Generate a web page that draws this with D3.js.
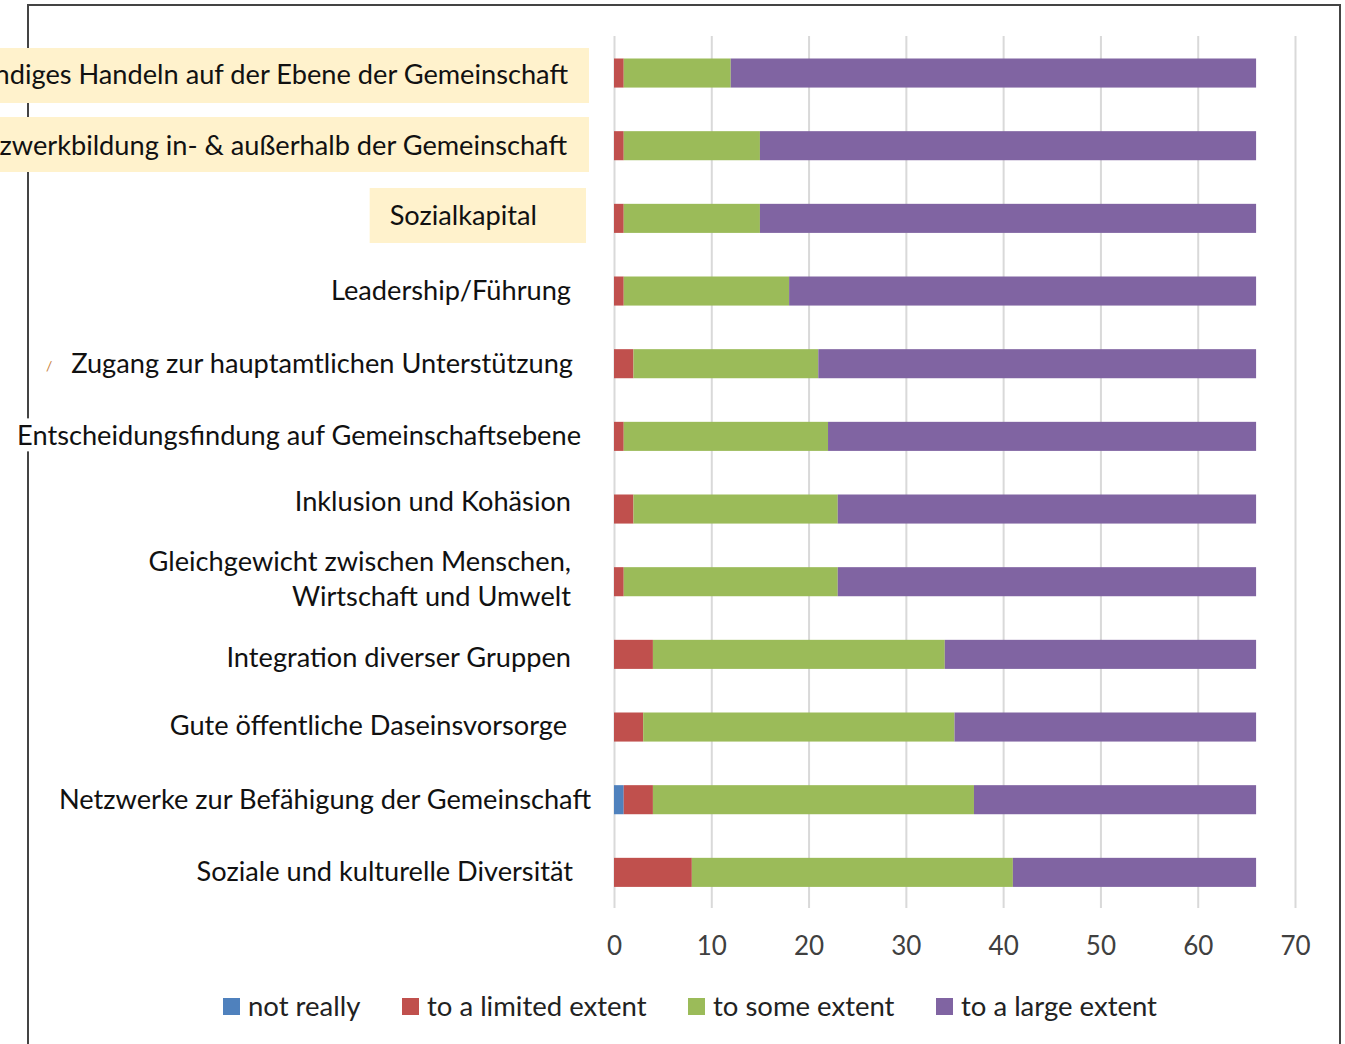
<!DOCTYPE html>
<html lang="en">
<head>
    <meta charset="UTF-8">
    <script src="https://cdnjs.cloudflare.com/ajax/libs/d3/7.8.5/d3.min.js"></script>
    <style>
        body { margin: 0; background: #fff; }
        svg { display: block; font-family: Lato, "Open Sans", sans-serif; }
    </style>
</head>
<body>
    <svg id="chart" width="1345" height="1044"></svg>
    <script>
        // categories, top to bottom
        let categories = [
            "Eigenständiges Handeln auf der Ebene der Gemeinschaft",
            "Netzwerkbildung in- & außerhalb der Gemeinschaft",
            "Sozialkapital",
            "Leadership/Führung",
            "Zugang zur hauptamtlichen Unterstützung",
            "Entscheidungsfindung auf Gemeinschaftsebene",
            "Inklusion und Kohäsion",
            "Gleichgewicht zwischen Menschen,|Wirtschaft und Umwelt",
            "Integration diverser Gruppen",
            "Gute öffentliche Daseinsvorsorge",
            "Netzwerke zur Befähigung der Gemeinschaft",
            "Soziale und kulturelle Diversität"
        ];
        let highlighted = [0, 1, 2];

        let seriesNames = ["not really", "to a limited extent", "to some extent", "to a large extent"];
        let notReally     = [0, 0, 0, 0, 0, 0, 0, 0, 0, 0, 1, 0];
        let limitedExtent = [1, 1, 1, 1, 2, 1, 2, 1, 4, 3, 3, 8];
        let someExtent    = [11, 14, 14, 17, 19, 21, 21, 22, 30, 32, 33, 33];
        let largeExtent   = [54, 51, 51, 48, 45, 44, 43, 43, 32, 31, 29, 25];
        let xTicks = [0, 10, 20, 30, 40, 50, 60, 70];

        let colors = ["#4f81bd", "#c0504d", "#9bbb59", "#8064a2"];

        let rows = categories.map((c, i) => ({
            cat: c,
            "not really": notReally[i],
            "to a limited extent": limitedExtent[i],
            "to some extent": someExtent[i],
            "to a large extent": largeExtent[i]
        }));
        let stacked = d3.stack().keys(seriesNames)(rows);

        let svg = d3.select("#chart");

        let x = d3.scaleLinear().domain([0, 70]).range([614, 1295]);
        let y = d3.scaleBand().domain(categories).range([36.7, 908.7])
            .paddingInner(0.6).paddingOuter(0.3);

        // frame
        svg.append("rect")
            .attr("x", 28).attr("y", 5)
            .attr("width", 1312).attr("height", 1100)
            .attr("fill", "none").attr("stroke", "#444").attr("stroke-width", 2);

        // gridlines + axis
        let xAxis = d3.axisBottom(x).tickValues(xTicks).tickSize(872).tickPadding(29);
        let gx = svg.append("g").attr("transform", "translate(0,36)").call(xAxis);
        gx.select(".domain").remove();
        gx.selectAll(".tick line").attr("stroke", "#d9d9d9").attr("stroke-width", 2);
        gx.selectAll(".tick text")
            .attr("font-size", 26).attr("fill", "#404040")
            .attr("font-family", "Lato, sans-serif");

        // bars
        svg.append("g").selectAll("g")
            .data(stacked)
            .join("g")
            .attr("fill", (d, i) => colors[i])
            .selectAll("rect")
            .data(d => d)
            .join("rect")
            .attr("x", d => x(d[0]))
            .attr("width", d => x(d[1]) - x(d[0]))
            .attr("y", d => y(d.data.cat))
            .attr("height", y.bandwidth());

        // labels
        let labelSize = 27.2;
        let labelRight = 571;
        let labelShift = {0: -3, 1: -4, 2: -34, 4: 2, 5: 10, 9: -4, 10: 20, 11: 2};
        let labelLift = {0: 2, 1: 0, 2: -2, 6: -7, 8: 4, 9: -1};
        let boxTop = {0: 48, 1: 117, 2: 188};
        let lg = svg.append("g");
        categories.forEach((c, i) => {
            let cy = y(c) + y.bandwidth() / 2 + (labelLift[i] || 0);
            let lines = c.split("|");
            let g = lg.append("g");
            let bg = g.append("rect");
            let t = g.append("text")
                .attr("text-anchor", "end")
                .attr("font-size", labelSize)
                .attr("fill", "#111");
            lines.forEach((ln, j) => {
                t.append("tspan")
                    .attr("x", labelRight + (labelShift[i] || 0))
                    .attr("y", cy + 9 + (j - (lines.length - 1) / 2) * 35 - (lines.length > 1 ? 2 : 0))
                    .text(ln);
            });
            let bb = t.node().getBBox();
            if (highlighted.includes(i)) {
                let left = i === 2 ? bb.x - 20 : -10;
                let right = i === 2 ? 586 : 589;
                bg.attr("x", left).attr("y", boxTop[i])
                    .attr("width", right - left).attr("height", 55)
                    .attr("fill", "#fff2cc");
            } else {
                bg.attr("x", bb.x - 3).attr("y", bb.y)
                    .attr("width", bb.width + 6).attr("height", bb.height)
                    .attr("fill", "#fff");
            }
        });
        // small stray mark left of the Zugang label
        lg.append("text").attr("x", 46).attr("y", 371)
            .attr("font-size", 14).attr("fill", "#c8803c").text("/");

        // legend
        let legendX = [223, 402, 688, 936];
        let leg = svg.append("g").selectAll("g")
            .data(seriesNames)
            .join("g")
            .attr("transform", (d, i) => `translate(${legendX[i]},998)`);
        leg.append("rect").attr("width", 17).attr("height", 17)
            .attr("fill", (d, i) => colors[i]);
        leg.append("text").attr("x", 25).attr("y", 18)
            .attr("font-size", 27.5).attr("fill", "#222")
            .text(d => d);
    </script>
</body>
</html>
